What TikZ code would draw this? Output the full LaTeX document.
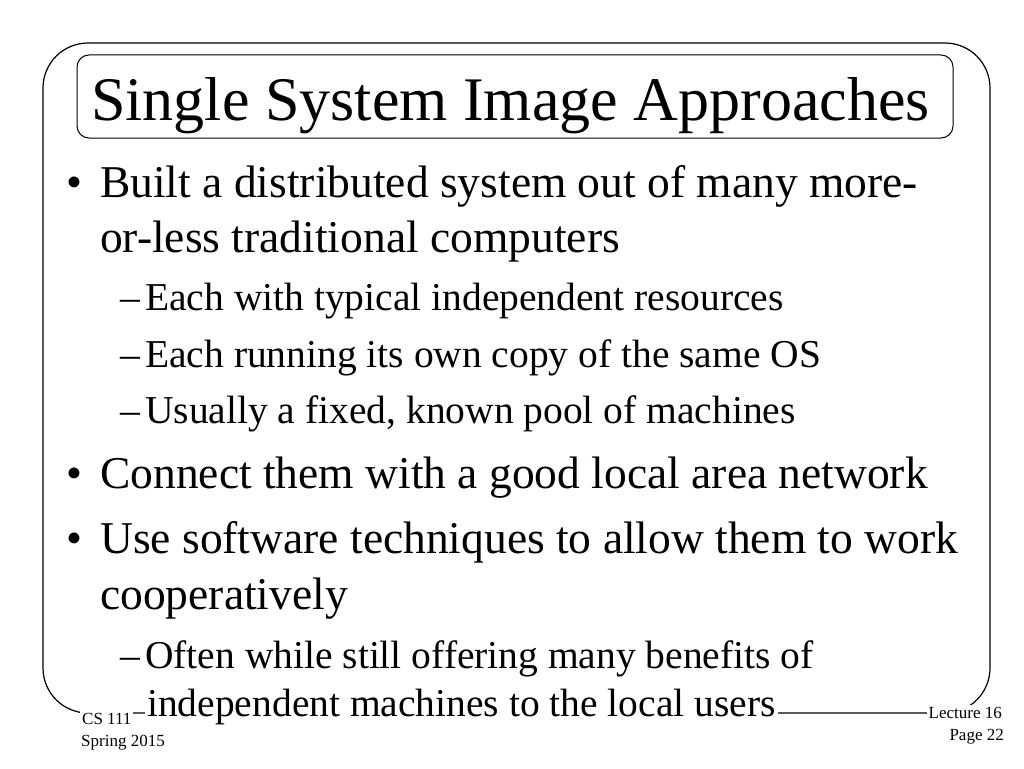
\documentclass[tikz,border=0pt]{standalone}
\usepackage{fontspec}
\setmainfont{Liberation Serif}
\begin{document}
\begin{tikzpicture}[x=1pt,y=-1pt,
  t/.style={anchor=base west,inner sep=0pt},
  big/.style={t,font=\fontsize{45.5}{48}\selectfont},
  small/.style={t,font=\fontsize{39.5}{42}\selectfont},
  foot/.style={inner sep=0pt,font=\fontsize{17}{19}\selectfont}]
\useasboundingbox (0,0) rectangle (1024,768);
\draw[line width=1.2pt,rounded corners=45pt] (43,43) rectangle (990,713);
\draw[line width=1pt,rounded corners=12pt,fill=white] (77,55) rectangle (953,138);
\node[t,font=\fontsize{62}{66}\selectfont] (title) at (91,120) {Single System Image Approaches};
\node[big] (b1) at (66,197) {•};
\node[big] (l1) at (100,197) {Built a distributed system out of many more-};
\node[big] (l2) at (100,252) {or-less traditional computers};
\node[small] (d1) at (120,310) {–};
\node[small] (s1) at (145,310) {Each with typical independent resources};
\node[small] (d2) at (120,367) {–};
\node[small] (s2) at (145,367) {Each running its own copy of the same OS};
\node[small] (d3) at (120,423) {–};
\node[small] (s3) at (145,423) {Usually a fixed, known pool of machines};
\node[big] (b2) at (66,488) {•};
\node[big] (l3) at (100,488) {Connect them with a good local area network};
\node[big] (b3) at (66,553) {•};
\node[big] (l4) at (100,553) {Use software techniques to allow them to work};
\node[big] (l5) at (100,609) {cooperatively};
\node[small] (d4) at (120,668) {–};
\node[small] (s4) at (145,668) {Often while still offering many benefits of};
\node[small,fill=white,inner sep=2pt] (s5) at (145,716) {independent machines to the local users};
\node[foot,anchor=base west,fill=white,inner sep=2pt] (f1) at (80,724) {CS 111};
\node[foot,anchor=base west] (f2) at (81,746) {Spring 2015};
\node[foot,anchor=base east,fill=white,inner sep=2pt] (f3) at (1004,718) {Lecture 16};
\node[foot,anchor=base east] (f4) at (1004,740) {Page 22};
\end{tikzpicture}
\end{document}
